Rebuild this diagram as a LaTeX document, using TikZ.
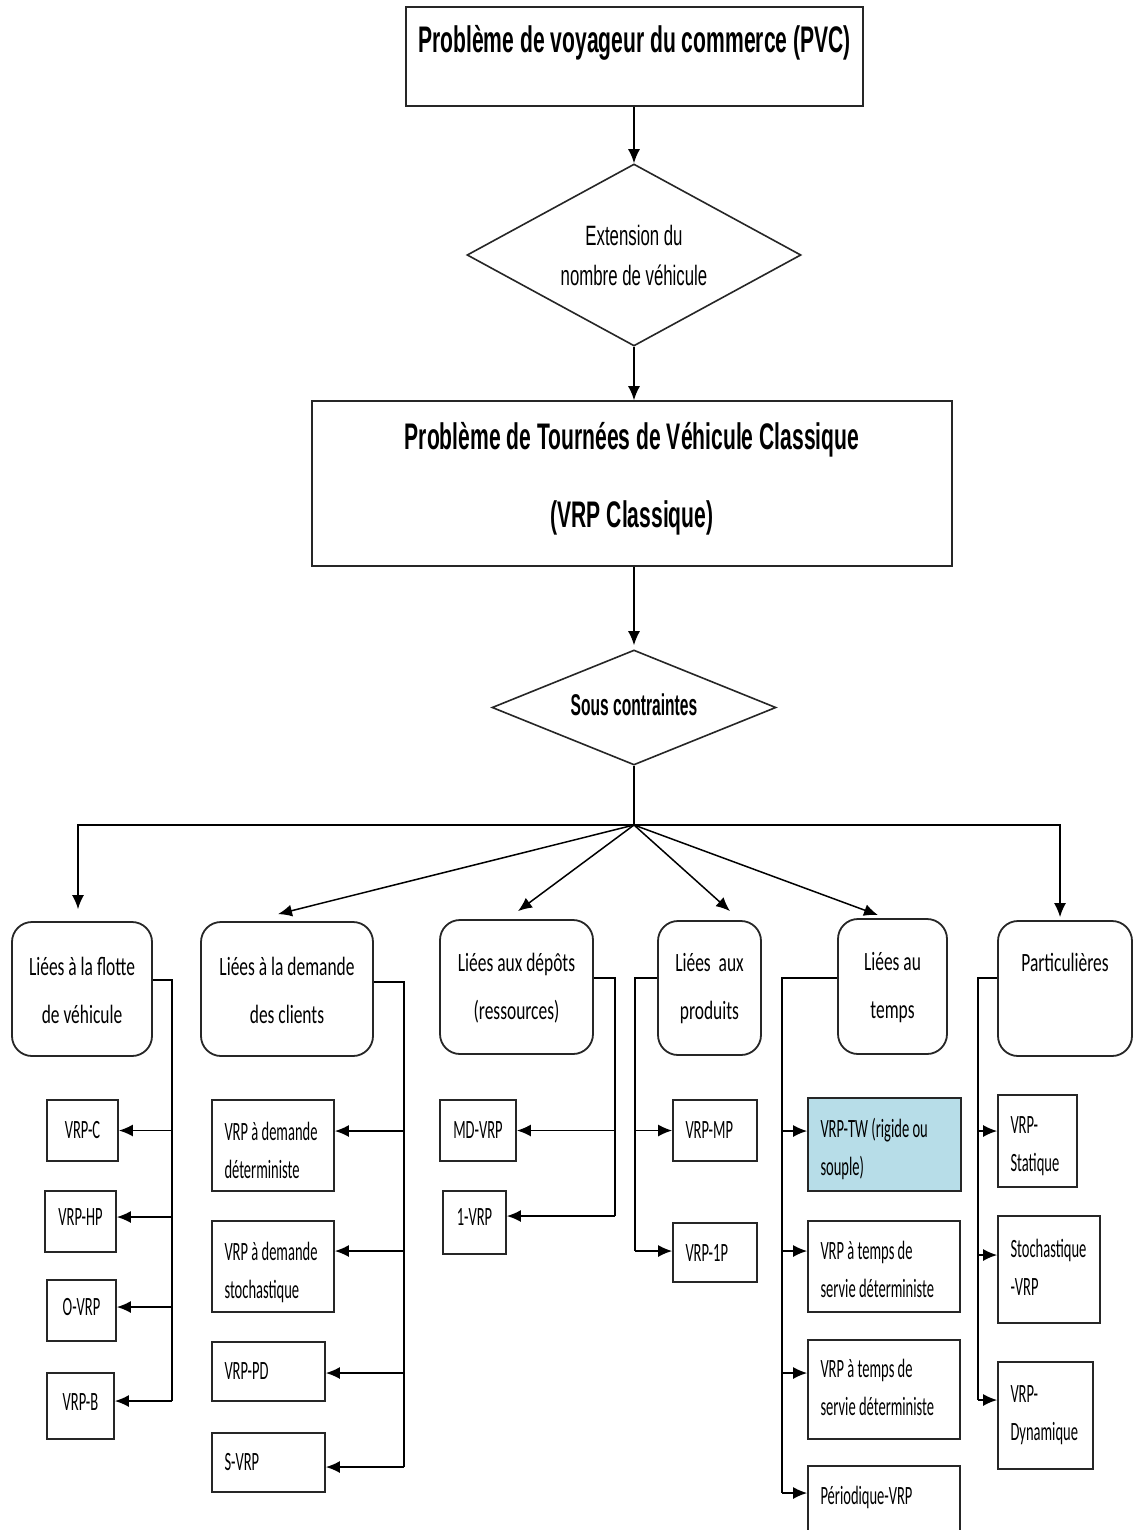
\documentclass[tikz,border=0pt]{standalone}
\usepackage{fontspec}
\setmainfont{Carlito}
\newfontfamily\catf[FakeStretch=0.66]{Carlito}
\newfontfamily\leaff[FakeStretch=0.55]{Carlito}
\newfontfamily\titf[FakeStretch=0.57]{Liberation Sans}
\newfontfamily\diaf[FakeStretch=0.6]{Liberation Sans}
\newfontfamily\souf[FakeStretch=0.52]{Liberation Sans}
\usetikzlibrary{arrows.meta,shapes.geometric,fit}
\definecolor{twblue}{RGB}{183,221,232}
\newcommand\brL[3]{\path ([yshift=#3]#2.east) coordinate (#2x); \draw[arr] (#2x -| #1) -- (#2x);}
\newcommand\brR[3]{\path ([yshift=#3]#2.west) coordinate (#2x); \draw[arr] (#2x -| #1) -- (#2x);}
\newcommand\ltx[3][0pt]{\node[lt] (#2t) at ([xshift=6.5pt,yshift=#1]#2.west) {#3};}
\newcommand\ctx[3][0pt]{\node[ct] (#2t) at ([yshift=#1]#2.center) {#3};}
\begin{document}
\begin{tikzpicture}[x=0.5pt,y=-0.5pt,
  box/.style={draw=black!85, line width=0.9pt, inner sep=0pt},
  cat/.style={box, rounded corners=10pt},
  catt/.style={align=center, inner sep=0pt, font=\catf\fontsize{13.2}{24}\selectfont},
  ct/.style={align=center, inner sep=0pt, font=\leaff\fontsize{13.2}{19}\selectfont},
  lt/.style={align=left, inner sep=0pt, anchor=west, font=\leaff\fontsize{13.2}{19}\selectfont},
  tt/.style={anchor=base, inner sep=0pt, font=\titf\bfseries\fontsize{18.5}{22}\selectfont},
  ln/.style={line width=0.75pt, draw=black},
  arr/.style={ln, -{Latex[length=7pt,width=6pt]}},
]
\clip (0,0) rectangle (1133,1530);
\fill[white] (0,0) rectangle (1133,1530);

% top part
\node[box, line width=0.8pt, fit={(406,7) (863,106)}] (pvc) {};
\node[tt] (pvct) at ([yshift=-23pt]pvc.north) {Problème de voyageur du commerce (PVC)};
\node[diamond, draw=black!85, line width=0.8pt, minimum width=167pt, minimum height=91pt, aspect=1.835, inner sep=0pt, align=center, font=\diaf\fontsize{14}{20}\selectfont] (d1) at (634,255) {Extension du\\nombre de véhicule};
\node[box, line width=0.8pt, fit={(312,401) (952,566)}] (vrp) {};
\node[tt] (vrpt1) at ([yshift=-24.5pt]vrp.north) {Problème de Tournées de Véhicule Classique};
\node[tt] (vrpt2) at ([yshift=-63.5pt]vrp.north) {(VRP Classique)};
\node[diamond, draw=black!85, line width=0.8pt, minimum width=142pt, minimum height=57.5pt, aspect=2.47, inner sep=0pt] (d2) at (634,707.5) {};
\node[inner sep=0pt, font=\souf\bfseries\fontsize{15}{18}\selectfont] (d2t) at ([yshift=1.5pt]d2.center) {Sous contraintes};

\draw[arr] (pvc.south -| d1.north) -- (d1.north);
\draw[arr] (d1.south) -- (d1.south |- vrp.north);
\draw[arr, shorten >=2pt] (vrp.south -| d2.north) -- (d2.north);

% categories
\node[cat, fit={(12,922) (152,1056)}] (c1) {};
\node[cat, fit={(201,922) (373,1056)}] (c2) {};
\node[cat, fit={(440,920) (593,1054)}] (c3) {};
\node[cat, fit={(658,921) (761,1055)}] (c4) {};
\node[cat, fit={(838,919) (947,1054)}] (c5) {};
\node[cat, fit={(998,921) (1132,1056)}] (c6) {};
\node[catt] (c1t) at ([yshift=-0.5pt]c1.center) {Liées à la flotte\\de véhicule};
\node[catt] (c2t) at ([yshift=-0.5pt]c2.center) {Liées à la demande\\des clients};
\node[catt] (c3t) at ([yshift=-0.5pt]c3.center) {Liées aux dépôts\\(ressources)};
\node[catt] (c4t) at ([yshift=-0.5pt]c4.center) {Liées\ \ aux\\produits};
\node[catt] (c5t) at ([yshift=-0.5pt]c5.center) {Liées au\\temps};
\node[catt, anchor=base] (c6t) at ([yshift=-25.5pt]c6.north) {Particulières};

\coordinate (hub) at (634,825);
\draw[ln] (d2.south) -- (hub);
\draw[arr] (hub) -| ([xshift=-2pt,yshift=6pt]c1.north);
\draw[arr] (hub) -| ([xshift=-2.5pt,yshift=1.5pt]c6.north);
\draw[arr] (hub) -- ([xshift=-4.5pt,yshift=3.5pt]c2.north);
\draw[arr] (hub) -- ([xshift=0.75pt,yshift=4pt]c3.north);
\draw[arr] (hub) -- ([xshift=10.25pt,yshift=4.5pt]c4.north);
\draw[arr] (hub) -- ([xshift=-7.25pt,yshift=1.5pt]c5.north);

% column 1 leaves
\node[box, fit={(47,1100) (118,1161)}] (vrpc) {};
\node[box, fit={(45,1191) (116,1252)}] (vrphp) {};
\node[box, fit={(47,1280) (116,1341)}] (ovrp) {};
\node[box, fit={(47,1373) (114,1439)}] (vrpb) {};
\ctx[0pt]{vrpc}{VRP-C}
\ctx[2pt]{vrphp}{VRP-HP}
\ctx[1.5pt]{ovrp}{O-VRP}
\ctx[2pt]{vrpb}{VRP-B}
\coordinate (b1) at (172,1401);
\draw[ln] ([yshift=4.5pt]c1.east) -| (b1);
\brL{b1}{vrpc}{0pt}
\brL{b1}{vrphp}{2.25pt}
\brL{b1}{ovrp}{1.75pt}
\brL{b1}{vrpb}{2.5pt}

% column 2 leaves
\node[box, fit={(212,1100) (334,1191)}] (dd) {};
\node[box, fit={(212,1221) (334,1312)}] (ds) {};
\node[box, fit={(212,1342) (325,1401)}] (pd) {};
\node[box, fit={(212,1433) (325,1492)}] (svrp) {};
\ltx[-2.5pt]{dd}{VRP à demande\\déterministe}
\ltx[-3pt]{ds}{VRP à demande\\stochastique}
\ltx{pd}{VRP-PD}
\ltx{svrp}{S-VRP}
\coordinate (b2) at (404,1467);
\draw[ln] ([yshift=3.5pt]c2.east) -| (b2);
\brL{b2}{dd}{7.25pt}
\brL{b2}{ds}{7.75pt}
\brL{b2}{pd}{-0.75pt}
\brL{b2}{svrp}{-2.25pt}

% column 3 leaves
\node[box, fit={(440,1100) (516,1161)}] (md) {};
\node[box, fit={(443,1191) (506,1254)}] (one) {};
\ctx[0pt]{md}{MD-VRP}
\ctx[3pt]{one}{1-VRP}
\coordinate (b3) at (615,1216);
\draw[ln] ([yshift=4.5pt]c3.east) -| (b3);
\brL{b3}{md}{0pt}
\brL{b3}{one}{3.25pt}

% column 4 leaves
\node[box, fit={(673,1100) (757,1161)}] (mp) {};
\node[box, fit={(673,1223) (757,1282)}] (p1) {};
\ltx{mp}{VRP-MP}
\ltx{p1}{VRP-1P}
\coordinate (b4) at (635,1251);
\draw[ln] ([yshift=5pt]c4.west) -| (b4);
\brR{b4}{mp}{0pt}
\brR{b4}{p1}{0.75pt}

% column 5 leaves
\node[box, fill=twblue, fit={(808,1098) (961,1191)}] (tw) {};
\node[box, fit={(808,1221) (960,1312)}] (t1) {};
\node[box, fit={(808,1340) (960,1439)}] (t2) {};
\node[box, fit={(808,1466) (960,1560)}] (per) {};
\ltx[-2pt]{tw}{VRP-TW (rigide ou\\souple)}
\ltx[-1.5pt]{t1}{VRP à temps de\\servie déterministe}
\ltx[1pt]{t2}{VRP à temps de\\servie déterministe}
\ltx[8pt]{per}{Périodique-VRP}
\coordinate (b5) at (782,1493);
\draw[ln] ([yshift=4.25pt]c5.west) -| (b5);
\brR{b5}{tw}{6.75pt}
\brR{b5}{t1}{7.75pt}
\brR{b5}{t2}{8.25pt}
\brR{b5}{per}{10pt}

% column 6 leaves
\node[box, fit={(998,1095) (1077,1187)}] (st) {};
\node[box, fit={(998,1216) (1100,1323)}] (sv) {};
\node[box, fit={(998,1362) (1093,1469)}] (dy) {};
\ltx[-2.5pt]{st}{VRP-\\Statique}
\ltx[1pt]{sv}{Stochastique\\-VRP}
\ltx[0pt]{dy}{VRP-\\Dynamique}
\coordinate (b6) at (978,1400);
\draw[ln] ([yshift=5.25pt]c6.west) -| (b6);
\brR{b6}{st}{5pt}
\brR{b6}{sv}{7.25pt}
\brR{b6}{dy}{7.75pt}
\end{tikzpicture}
\end{document}
